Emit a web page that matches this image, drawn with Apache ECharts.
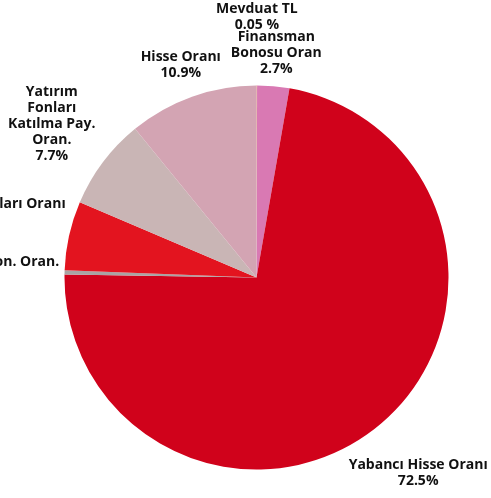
<!DOCTYPE html>
<html><head><meta charset="utf-8">
<script src="https://cdn.jsdelivr.net/npm/echarts@6/dist/echarts.min.js"></script>
<style>html,body{margin:0;padding:0;background:#fff;overflow:hidden}#c{width:491px;height:498px}</style>
</head><body><div id="c"></div>
<script>
// slices, clockwise from 12 o'clock
const categories = ["Mevduat TL", "Finansman\nBonosu Oran", "Yabancı Hisse Oranı", "Borsa Yatırım Fon. Oran.", "Kamu Kira Sertifikaları Oranı", "Yatırım\nFonları\nKatılma Pay.\nOran.", "Hisse Oranı"];
const values = [0.05, 2.7, 72.5, 0.35, 5.8, 7.7, 10.9];
const valueLabels = ["0.05 %", "2.7%", "72.5%", "0.35%", "5.8%", "7.7%", "10.9%"];
const colors = ["#e8946a", "#d979b3", "#d0021b", "#a9a4a4", "#e3141f", "#c9b5b5", "#d3a4b3"];

const FONT_SIZE = 14, LINE_H = 16, FONT_FAMILY = "Open Sans";
const CX = 256.5, CY = 277.5, R = 192, OFFSET = 5;

const total = values.reduce((a, b) => a + b, 0);
const cvs = document.createElement('canvas').getContext('2d');
cvs.font = "bold " + FONT_SIZE + "px '" + FONT_FAMILY + "'";

function labelText(i) { return categories[i] + "\n" + valueLabels[i]; }

const boxes = [];
(function layout() {
  let cum = 0;
  const items = values.map((v, i) => {
    const mid = (cum + v / 2) / total * 2 * Math.PI; cum += v;
    const lines = labelText(i).split("\n");
    const w = Math.max(...lines.map(l => cvs.measureText(l).width));
    const h = lines.length * LINE_H;
    return { i, v, vx: Math.sin(mid), vy: -Math.cos(mid), w, h };
  });
  const order = items.slice().sort((a, b) => b.v - a.v);
  const placed = [];
  const hit = (a) => placed.some(b => Math.abs(a.x - b.x) < (a.w + b.w) / 2 && Math.abs(a.y - b.y) < (a.h + b.h) / 2 - 4);
  order.forEach(it => {
    let rl = R + OFFSET + Math.abs(it.vx) * it.w / 2 + Math.abs(it.vy) * it.h / 2;
    it.x = CX + it.vx * rl; it.y = CY + it.vy * rl;
    let guard = 0;
    while (hit(it) && guard++ < 300) { rl += 1; it.x = CX + it.vx * rl; it.y = CY + it.vy * rl; }
    placed.push(it);
    boxes[it.i] = it;
  });
})();

const chart = echarts.init(document.getElementById('c'), null, { renderer: 'canvas' });
chart.setOption({
  animation: false,
  series: [{
    type: 'pie',
    center: [CX, CY],
    radius: R,
    startAngle: 90,
    clockwise: true,
    avoidLabelOverlap: false,
    data: categories.map((c, i) => ({ name: c, value: values[i], itemStyle: { color: colors[i] } })),
    itemStyle: { borderWidth: 0 },
    label: {
      show: true,
      position: 'outside',
      formatter: p => labelText(p.dataIndex),
      fontFamily: FONT_FAMILY,
      fontWeight: 'bold',
      fontSize: FONT_SIZE,
      lineHeight: LINE_H,
      color: '#111',
      align: 'center'
    },
    labelLine: { show: false },
    labelLayout: function (params) {
      const b = boxes[params.dataIndex];
      return { x: b.x, y: b.y, align: 'center', verticalAlign: 'middle' };
    },
    emphasis: { disabled: true }
  }]
});
</script>
</body></html>
